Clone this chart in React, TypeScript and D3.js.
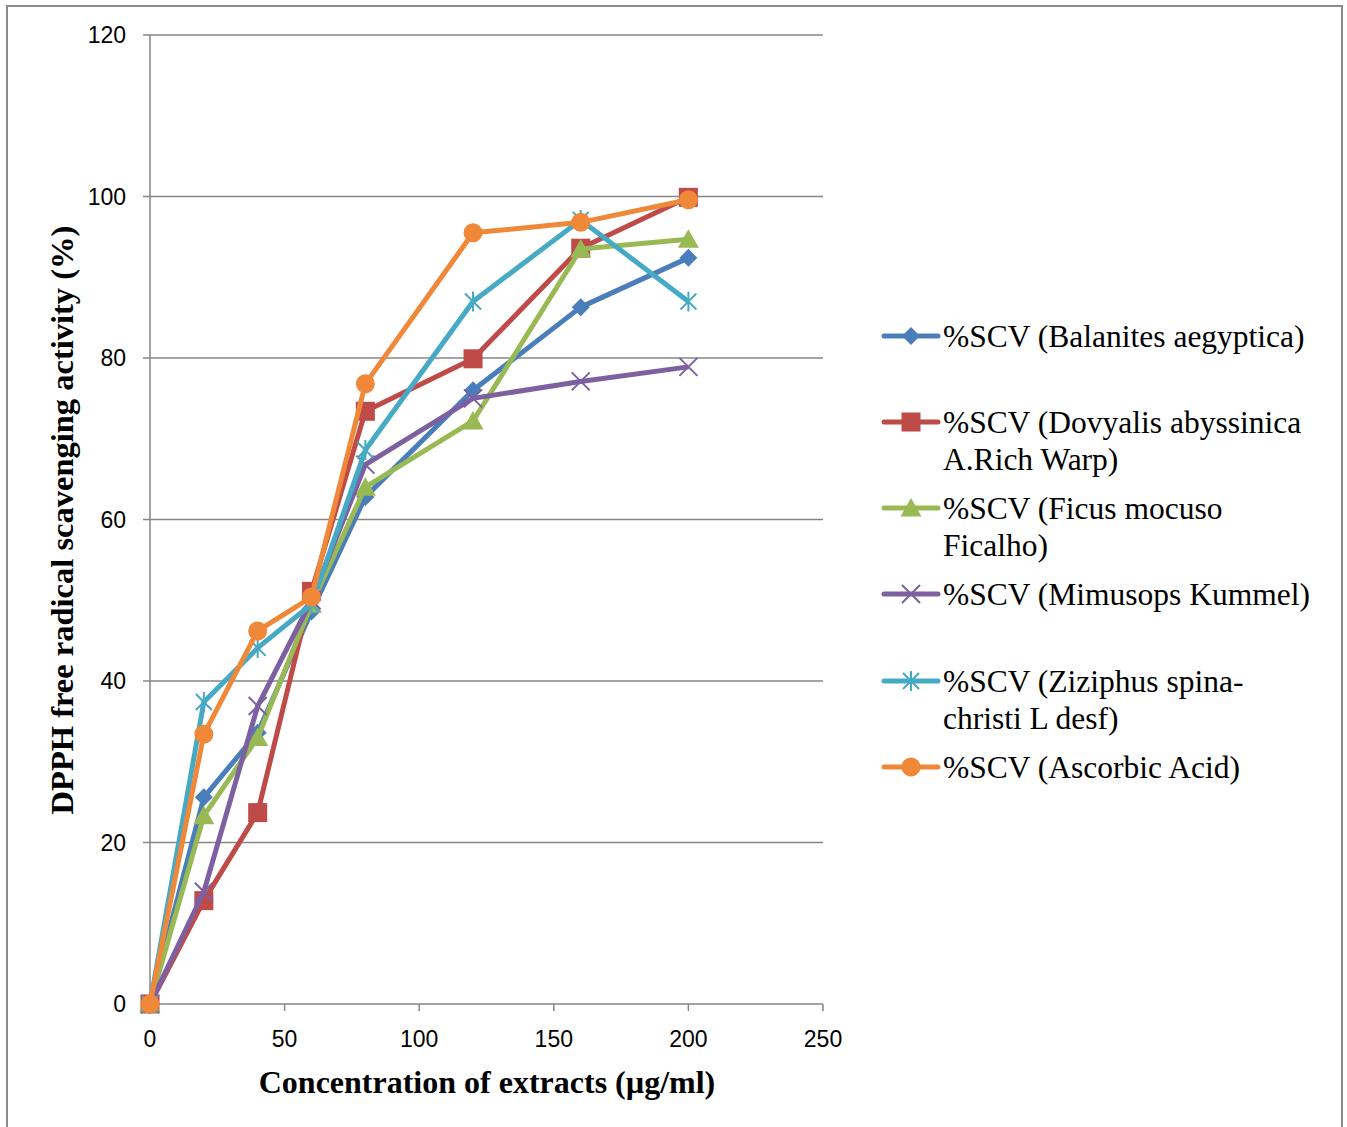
import React from 'react';
import * as d3 from 'd3';

const CONC = [0, 20, 40, 60, 80, 120, 160, 200];

const BALANITES = [0, 25.6, 33.6, 48.6, 62.8, 76.0, 86.3, 92.4];
const DOVYALIS = [0, 12.8, 23.7, 51.1, 73.4, 79.9, 93.6, 99.9];
const FICUS = [0, 23.3, 33.0, 49.5, 64.0, 72.2, 93.5, 94.7];
const MIMUSOPS = [0, 13.9, 36.9, 50.0, 66.8, 75.0, 77.1, 78.9];
const ZIZIPHUS = [0, 37.4, 44.1, 49.5, 68.6, 87.0, 97.1, 87.0];
const ASCORBIC = [0, 33.4, 46.2, 50.4, 76.8, 95.5, 96.8, 99.6];

const SERIES_NAMES = [
  ['%SCV (Balanites aegyptica)'],
  ['%SCV (Dovyalis abyssinica', 'A.Rich Warp)'],
  ['%SCV (Ficus mocuso', 'Ficalho)'],
  ['%SCV (Mimusops Kummel)'],
  ['%SCV (Ziziphus spina-', 'christi L desf)'],
  ['%SCV (Ascorbic Acid)'],
];
const SERIES_VALUES = [BALANITES, DOVYALIS, FICUS, MIMUSOPS, ZIZIPHUS, ASCORBIC];
const SERIES_COLORS = ['#4a7ebb', '#be4b48', '#98b954', '#7d60a0', '#46aac5', '#f0883a'];
const SERIES_MARKERS = ['diamond', 'square', 'triangle', 'x', 'star', 'circle'];

const X_TICKS = [0, 50, 100, 150, 200, 250];
const Y_TICKS = [0, 20, 40, 60, 80, 100, 120];

const X_TITLE = 'Concentration of extracts (µg/ml)';
const Y_TITLE = 'DPPH free radical scavenging activity (%)';

// legend rows: y of first text line for each entry
const LEGEND_Y = [336, 422, 508, 594, 681, 767];

function Marker({ kind, x, y, color }: { kind: string; x: number; y: number; color: string }) {
  switch (kind) {
    case 'diamond':
      return <path d={`M${x},${y - 9}L${x + 9},${y}L${x},${y + 9}L${x - 9},${y}Z`} fill={color} />;
    case 'square':
      return <rect x={x - 9.5} y={y - 9.5} width={19} height={19} fill={color} />;
    case 'triangle':
      return <path d={`M${x},${y - 10}L${x + 10.5},${y + 8.5}L${x - 10.5},${y + 8.5}Z`} fill={color} />;
    case 'x':
      return (
        <path
          d={`M${x - 9},${y - 9}L${x + 9},${y + 9}M${x - 9},${y + 9}L${x + 9},${y - 9}`}
          stroke={color}
          strokeWidth={2}
          fill="none"
        />
      );
    case 'star':
      return (
        <path
          d={`M${x - 8},${y - 8}L${x + 8},${y + 8}M${x - 8},${y + 8}L${x + 8},${y - 8}M${x},${y - 10}L${x},${y + 10}`}
          stroke={color}
          strokeWidth={2}
          fill="none"
        />
      );
    default:
      return <circle cx={x} cy={y} r={9.5} fill={color} />;
  }
}

export default function App() {
  const width = 1347;
  const height = 1127;
  const left = 150;
  const right = 823;
  const top = 35;
  const bottom = 1004;

  const x = d3.scaleLinear().domain([0, 250]).range([left, right]);
  const y = d3.scaleLinear().domain([0, 120]).range([bottom, top]);

  const line = d3
    .line<number>()
    .x((_, i) => x(CONC[i]))
    .y((d) => y(d));

  const grid = '#868686';
  const serif = 'Liberation Serif, Times New Roman, serif';
  const sans = 'Liberation Sans, Arial, sans-serif';

  return (
    <svg
      width={width}
      height={height}
      style={{ position: 'absolute', left: 0, top: 0, background: '#fff' }}
    >
      <rect x={7} y={6} width={1335} height={1140} fill="#fff" stroke="#8c8c8c" strokeWidth={2} />

      {/* gridlines + y ticks */}
      {Y_TICKS.map((t) => (
        <g key={'y' + t}>
          <line x1={left - 7} x2={right} y1={y(t)} y2={y(t)} stroke={grid} strokeWidth={1.5} />
          <text x={126} y={y(t)} dy="0.35em" textAnchor="end" fontFamily={sans} fontSize={23} fill="#000">
            {t}
          </text>
        </g>
      ))}
      <line x1={left} x2={left} y1={top} y2={bottom} stroke={grid} strokeWidth={1.5} />
      {X_TICKS.map((t) => (
        <g key={'x' + t}>
          <line x1={x(t)} x2={x(t)} y1={bottom} y2={bottom + 7} stroke={grid} strokeWidth={1.5} />
          <text x={x(t)} y={1039} dy="0.35em" textAnchor="middle" fontFamily={sans} fontSize={23} fill="#000">
            {t}
          </text>
        </g>
      ))}

      {/* series */}
      {SERIES_VALUES.map((vals, si) => (
        <g key={'s' + si}>
          <path
            d={line(vals) || ''}
            fill="none"
            stroke={SERIES_COLORS[si]}
            strokeWidth={5}
            strokeLinejoin="round"
          />
          {vals.map((v, i) => (
            <Marker key={i} kind={SERIES_MARKERS[si]} x={x(CONC[i])} y={y(v)} color={SERIES_COLORS[si]} />
          ))}
        </g>
      ))}

      {/* axis titles */}
      <text x={487} y={1082} dy="0.35em" textAnchor="middle" fontFamily={serif} fontWeight="bold" fontSize={32}>
        {X_TITLE}
      </text>
      <text
        transform={`translate(62, 520) rotate(-90)`}
        dy="0.35em"
        textAnchor="middle"
        fontFamily={serif}
        fontWeight="bold"
        fontSize={32.5}
      >
        {Y_TITLE}
      </text>

      {/* legend */}
      {SERIES_NAMES.map((lines, si) => (
        <g key={'l' + si}>
          <line
            x1={884}
            x2={938}
            y1={LEGEND_Y[si]}
            y2={LEGEND_Y[si]}
            stroke={SERIES_COLORS[si]}
            strokeWidth={5}
            strokeLinecap="round"
          />
          <Marker kind={SERIES_MARKERS[si]} x={911} y={LEGEND_Y[si]} color={SERIES_COLORS[si]} />
          {lines.map((txt, li) => (
            <text
              key={li}
              x={943}
              y={LEGEND_Y[si] + li * 37}
              dy="0.35em"
              fontFamily={serif}
              fontSize={31.5}
              fill="#000"
            >
              {txt}
            </text>
          ))}
        </g>
      ))}
    </svg>
  );
}
